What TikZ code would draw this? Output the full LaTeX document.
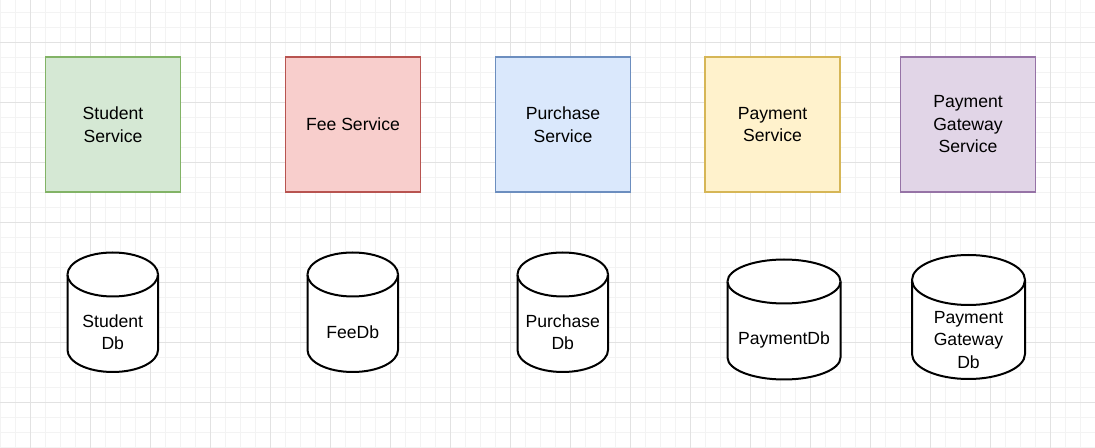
\documentclass[tikz,border=0pt]{standalone}
\usepackage{fontspec}
\setmainfont{Liberation Sans}
\definecolor{gfill}{HTML}{D5E8D4}\definecolor{gline}{HTML}{82B366}
\definecolor{rfill}{HTML}{F8CECC}\definecolor{rline}{HTML}{B85450}
\definecolor{bfill}{HTML}{DAE8FC}\definecolor{bline}{HTML}{6C8EBF}
\definecolor{yfill}{HTML}{FFF2CC}\definecolor{yline}{HTML}{D6B656}
\definecolor{pfill}{HTML}{E1D5E7}\definecolor{pline}{HTML}{9673A6}
\definecolor{gridminor}{HTML}{F3F3F3}\definecolor{gridmajor}{HTML}{E2E2E2}
\newcommand{\dbcyl}[7]{%
  \path[cyl] (#2-#3,#4+#6) -- (#2-#3,#5-#6)
    arc[start angle=180,end angle=0,x radius=#3,y radius=#6]
    -- (#2+#3,#4+#6)
    arc[start angle=0,end angle=-180,x radius=#3,y radius=#6] -- cycle;
  \draw[cyl] (#2-#3,#4+#6) arc[start angle=180,end angle=0,x radius=#3,y radius=#6];
  \node[dbtext] (#1) at (#2,{(#4+2*#6+#5)/2-2}) {#7};
}
\begin{document}
\begin{tikzpicture}[x=0.75pt,y=-0.75pt,
  lbl/.style={font=\fontsize{13.2}{16.9}\selectfont, align=center, text=black},
  svc/.style={lbl, draw, line width=1.1pt, minimum width=101.25pt, minimum height=101.25pt, inner sep=0pt},
  cyl/.style={draw=black, fill=white, line width=1.5pt},
  dbtext/.style={lbl, inner sep=0pt},
  minorline/.style={draw=gridminor, line width=0.75pt},
  majorline/.style={draw=gridmajor, line width=0.75pt}]
\useasboundingbox (0,0) rectangle (1095,448);
\fill[white] (0,0) rectangle (1095,448);
% grid
\foreach \x in {0.5,15.5,...,1095} \draw[minorline] (\x,0) -- (\x,448);
\foreach \y in {12.3,27.3,...,448} \draw[minorline] (0,\y) -- (1095,\y);
\foreach \x in {30.5,90.5,...,1095} \draw[majorline] (\x,0) -- (\x,448);
\foreach \y in {42.3,102.3,...,448} \draw[majorline] (0,\y) -- (1095,\y);
% services
\node[svc, fill=gfill, draw=gline] (student) at (113,124.5) {Student\\Service};
\node[svc, fill=rfill, draw=rline] (fee) at (353,124.5) {Fee Service};
\node[svc, fill=bfill, draw=bline] (purchase) at (563,124.5) {Purchase\\Service};
\node[svc, fill=yfill, draw=yline] (payment) at (772.5,124.5) {Payment\\Service};
\node[svc, fill=pfill, draw=pline] (gateway) at (968,124.5) {Payment\\Gateway\\Service};
% databases
\dbcyl{studentdb}{112.75}{45.25}{252.5}{372}{22}{Student\\Db}
\dbcyl{feedb}{352.75}{45.25}{252.5}{372}{22}{FeeDb}
\dbcyl{purchasedb}{562.75}{45.25}{252.5}{372}{22}{Purchase\\Db}
\dbcyl{paymentdb}{784}{56.5}{259.5}{379.5}{22}{PaymentDb}
\dbcyl{gatewaydb}{968.5}{56.5}{255}{379}{25}{Payment\\Gateway\\Db}
\end{tikzpicture}
\end{document}
